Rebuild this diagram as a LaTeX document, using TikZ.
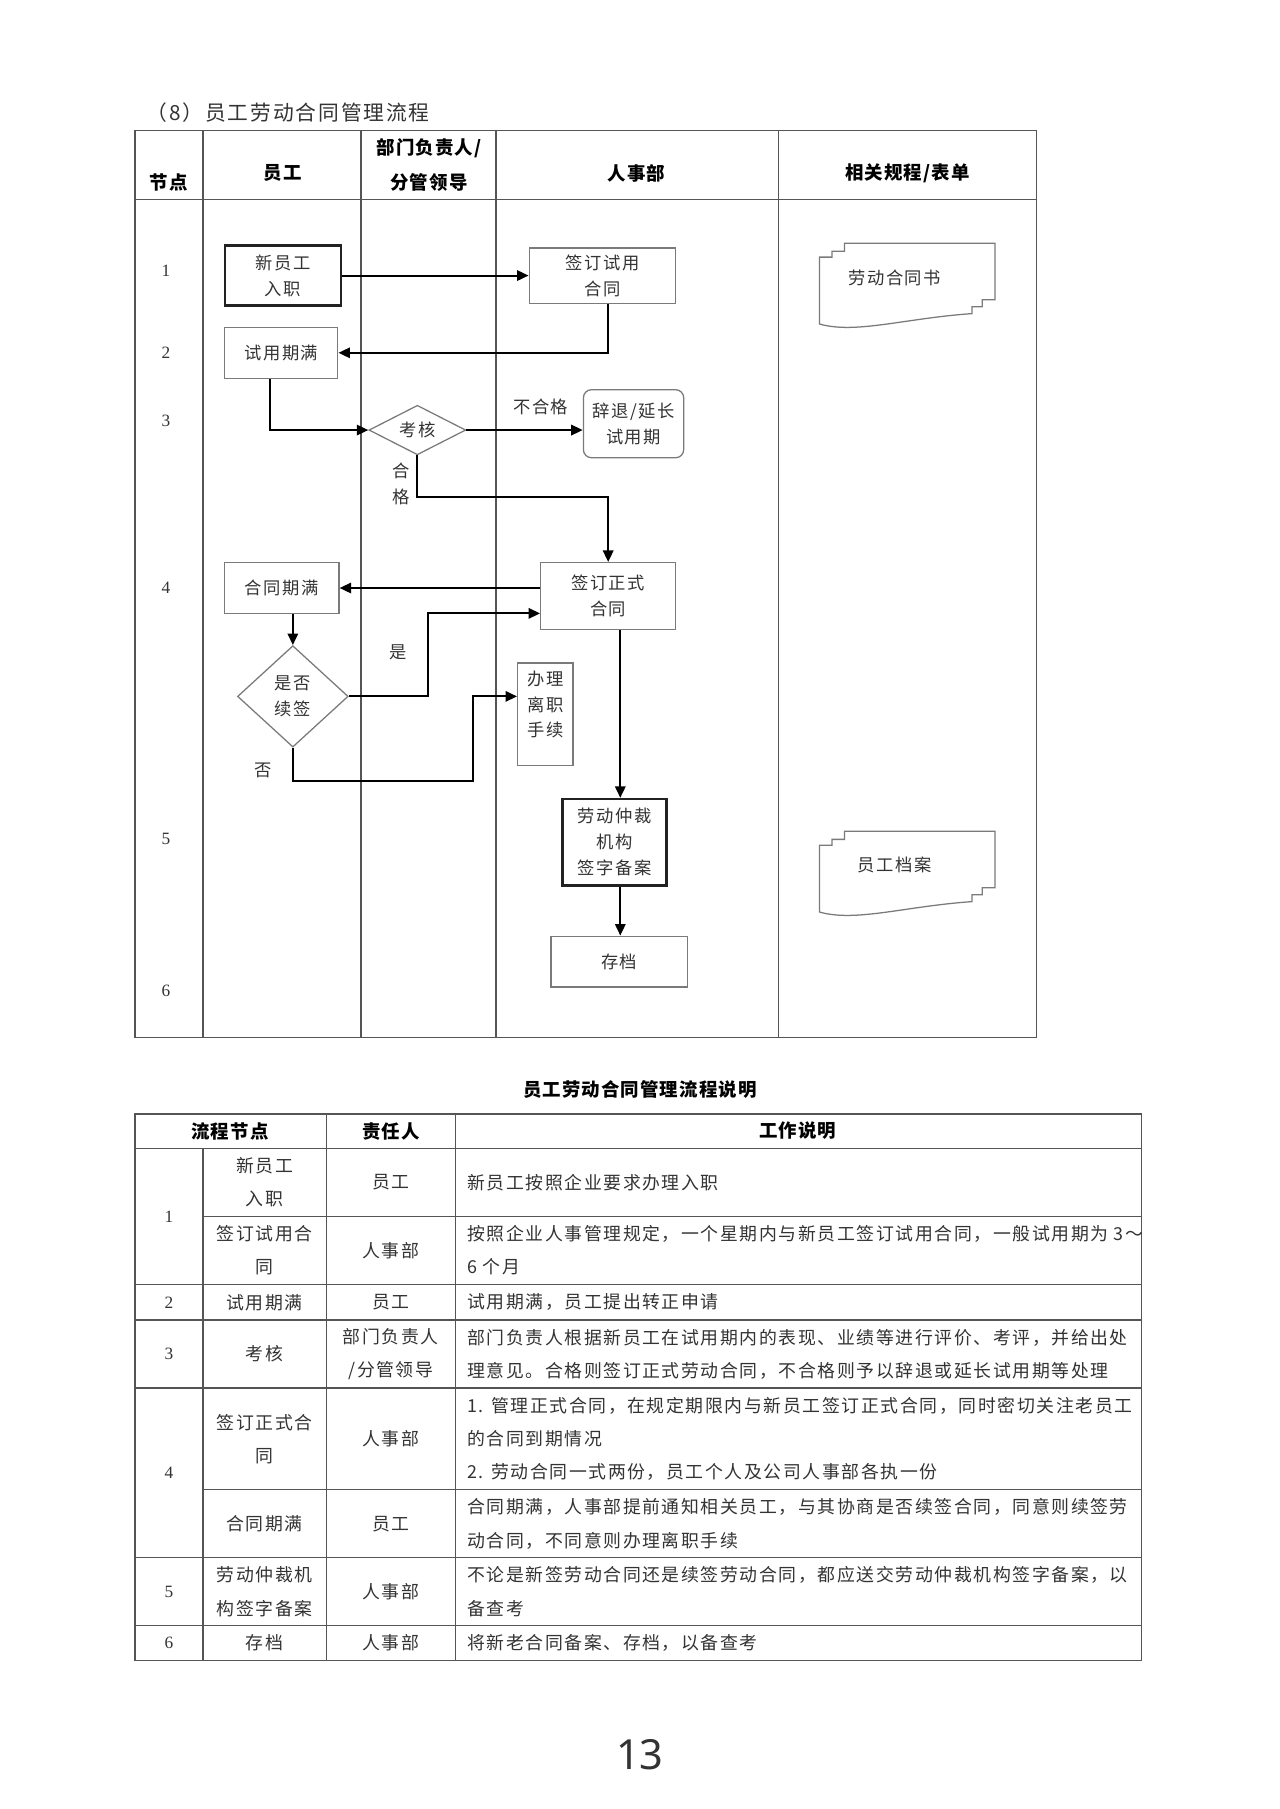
\documentclass[tikz,border=0pt]{standalone}
\usepackage{fontspec}
\usetikzlibrary{arrows.meta,shapes.geometric}
\setmainfont{Noto Sans CJK SC}
\newfontfamily\cjk{Noto Sans CJK SC}[LetterSpace=9]
\newfontfamily\cjkh{Noto Sans CJK SC}[LetterSpace=6]
\newfontfamily\numf{Liberation Serif}
\newfontfamily\pnf{Noto Sans}
\definecolor{ln}{HTML}{555555}
\definecolor{txt}{HTML}{333333}
\definecolor{bd}{HTML}{7A7A7A}
\definecolor{bdk}{HTML}{222222}
\newcommand\myflowfont{\cjk\fontsize{15}{22.5}\selectfont}
\newcommand\mytabfont{\cjk\fontsize{15.5}{29}\selectfont}
\newcommand\myheadfont{\cjkh\bfseries\fontsize{16}{30}\selectfont}
\newcommand\mydocpath{(732.5,721) -- (863,721) -- (863,770) -- (852,770) -- (852,776) -- (843,776) -- (843,782) .. controls (785,786) and (742,800) .. (710.7,791) -- (710.7,733) -- (721.6,733) -- (721.6,728) -- (732.5,728) -- cycle}
\tikzset{
  tl/.style={draw=ln, line width=1.3pt},
  fbox/.style={draw=bd, line width=1.1pt, rectangle, inner sep=0pt, align=center, font=\myflowfont, text=txt},
  fboxk/.style={fbox, draw=bdk, line width=2pt},
  fdia/.style={draw=bd, line width=1.1pt, diamond, inner sep=0pt, align=center, font=\myflowfont, text=txt},
  arr/.style={draw=black, line width=1.8pt, -{Triangle[length=10pt,width=9pt]}},
  lab/.style={font=\myflowfont, text=txt, inner sep=0pt, align=center},
  cell/.style={font=\mytabfont, text=txt, inner sep=0pt, align=center},
  desc/.style={cell, anchor=west, align=left},
  hd/.style={font=\myheadfont, text=black, inner sep=0pt, align=center},
  num/.style={font=\numf\fontsize{15}{20}\selectfont, text=txt, inner sep=0pt},
  docs/.style={draw=bd, line width=1.1pt},
}
\begin{document}
\begin{tikzpicture}[x=1pt,y=-1pt]
\useasboundingbox[fill=white] (0,0) rectangle (1110,1569);

% ---------- title ----------
\node[anchor=west, font=\cjk\fontsize{18}{22}\selectfont, text=txt, inner sep=0pt] (title) at (127,98) {（8）员工劳动合同管理流程};

% ---------- table 1 ----------
\draw[tl] (117,113) rectangle (899,900);
\draw[tl] (117,173) -- (899,173);
\foreach \x in {176,313,430,675} \draw[tl] (\x,113) -- (\x,900);

\node[hd] (h1) at (146.5,158) {节点};
\node[hd] (h2) at (245,150) {员工};
\node[hd] (h3) at (372,143) {部门负责人/\\分管领导};
\node[hd] (h4) at (552,150) {人事部};
\node[hd] (h5) at (787,150) {相关规程/表单};

\node[num] (n1) at (144,235) {1};
\node[num] (n2) at (144,306) {2};
\node[num] (n3) at (144,365) {3};
\node[num] (n4) at (144,510) {4};
\node[num] (n5) at (144,728) {5};
\node[num] (n6) at (144,859) {6};

% ---------- flow nodes ----------
\node[fboxk, minimum width=101pt, minimum height=52pt] (xin) at (245.5,239) {新员工\\入职};
\node[fbox, minimum width=127pt, minimum height=48pt] (qsy) at (522.5,239) {签订试用\\合同};
\node[fbox, minimum width=98pt, minimum height=44pt] (syqm) at (244,306) {试用期满};
\node[fdia, minimum width=84pt, minimum height=43pt, aspect=2] (kh) at (362,373) {考核};
\node[fbox, rounded corners=7pt, minimum width=87pt, minimum height=59pt] (ct) at (549.5,367.5) {辞退/延长\\试用期};
\node[fbox, minimum width=117pt, minimum height=58pt] (qzs) at (527.5,517) {签订正式\\合同};
\node[fbox, minimum width=99pt, minimum height=44pt] (htqm) at (244.5,510) {合同期满};
\node[fdia, minimum width=96pt, minimum height=88pt] (sf) at (254,604) {是否\\续签};
\node[fbox, minimum width=48pt, minimum height=89pt] (blz) at (473,619.5) {};
\node[lab] (blzt) at (473,611) {办理\\离职\\手续};
\node[fboxk, minimum width=90pt, minimum height=75pt] (lzc) at (533,730.5) {劳动仲裁\\机构\\签字备案};
\node[fbox, minimum width=118pt, minimum height=44pt] (cd) at (537,834) {存档};

% documents
\draw[docs] \mydocpath;
\begin{scope}[shift={(0,-510)}]
  \draw[docs] \mydocpath;
\end{scope}
\node[lab] (doc1) at (776,241) {劳动合同书};
\node[lab] (doc2) at (776,750) {员工档案};

% ---------- connectors ----------
\coordinate (c5) at (362,431);
\coordinate (c8) at (371,532);
\coordinate (c9) at (410,677);
\coordinate (c9b) at (410,604);

\draw[arr] (xin.east) -- (qsy.west);
\draw[arr] ([xshift=4.5pt]qsy.south) |- (syqm.east);
\draw[arr] ([xshift=-10pt]syqm.south) |- (kh.west);
\draw[arr] (kh.east) -- (ct.west |- kh.east);
\draw[arr] (kh.south) -- (c5) -| (qzs.north);
\draw[arr] (qzs.west |- htqm.east) -- (htqm.east);
\draw[arr] (sf.north |- htqm.south) -- (sf.north);
\draw[arr] (sf.east) -| (c8) -- (qzs.west |- c8);
\draw[arr] (sf.south) |- (c9) -- (c9b) -- (blz.west |- c9b);
\draw[arr] ([xshift=10.5pt]qzs.south) -- ([xshift=5pt]lzc.north);
\draw[arr] ([xshift=5pt]lzc.south) -- ([xshift=1pt]cd.north);

\node[lab] (l1) at (469,353) {不合格};
\node[lab] (l2) at (348,419.5) {合\\格};
\node[lab] (l3) at (345,566) {是};
\node[lab] (l4) at (228,668) {否};

% ---------- table 2 ----------
\node[font=\myheadfont, inner sep=0pt] (t2title) at (555,945) {员工劳动合同管理流程说明};

\draw[tl] (117,966) rectangle (990,1440);
\foreach \y in {996,1114,1145,1204,1351,1410} \draw[tl] (117,\y) -- (990,\y);
\foreach \y in {1055,1292} \draw[tl] (176,\y) -- (990,\y);
\draw[tl] (176,996) -- (176,1440);
\draw[tl] (283,966) -- (283,1440);
\draw[tl] (395,966) -- (395,1440);

\node[hd] (th1) at (199.5,981) {流程节点};
\node[hd] (th2) at (339,981) {责任人};
\node[hd] (th3) at (692,981) {工作说明};

\node[num] (r1) at (146.5,1055) {1};
\node[num] (r2) at (146.5,1129.5) {2};
\node[num] (r3) at (146.5,1174.5) {3};
\node[num] (r4) at (146.5,1277.5) {4};
\node[num] (r5) at (146.5,1380.5) {5};
\node[num] (r6) at (146.5,1425) {6};

\node[cell] (a1) at (229.5,1025.5) {新员工\\入职};
\node[cell] (b1) at (339,1025.5) {员工};
\node[desc] (d1) at (405,1025.5) {新员工按照企业要求办理入职};

\node[cell] (a2) at (229.5,1084.5) {签订试用合\\同};
\node[cell] (b2) at (339,1084.5) {人事部};
\node[desc] (d2) at (405,1084.5) {按照企业人事管理规定，一个星期内与新员工签订试用合同，一般试用期为 3～\\6 个月};

\node[cell] (a3) at (229.5,1129.5) {试用期满};
\node[cell] (b3) at (339,1129.5) {员工};
\node[desc] (d3) at (405,1129.5) {试用期满，员工提出转正申请};

\node[cell] (a4) at (229.5,1174.5) {考核};
\node[cell] (b4) at (339,1174.5) {部门负责人\\/分管领导};
\node[desc] (d4) at (405,1174.5) {部门负责人根据新员工在试用期内的表现、业绩等进行评价、考评，并给出处\\理意见。合格则签订正式劳动合同，不合格则予以辞退或延长试用期等处理};

\node[cell] (a5) at (229.5,1248) {签订正式合\\同};
\node[cell] (b5) at (339,1248) {人事部};
\node[desc] (d5) at (405,1248) {1. 管理正式合同，在规定期限内与新员工签订正式合同，同时密切关注老员工\\的合同到期情况\\2. 劳动合同一式两份，员工个人及公司人事部各执一份};

\node[cell] (a6) at (229.5,1321.5) {合同期满};
\node[cell] (b6) at (339,1321.5) {员工};
\node[desc] (d6) at (405,1321.5) {合同期满，人事部提前通知相关员工，与其协商是否续签合同，同意则续签劳\\动合同，不同意则办理离职手续};

\node[cell] (a7) at (229.5,1380.5) {劳动仲裁机\\构签字备案};
\node[cell] (b7) at (339,1380.5) {人事部};
\node[desc] (d7) at (405,1380.5) {不论是新签劳动合同还是续签劳动合同，都应送交劳动仲裁机构签字备案，以\\备查考};

\node[cell] (a8) at (229.5,1425) {存档};
\node[cell] (b8) at (339,1425) {人事部};
\node[desc] (d8) at (405,1425) {将新老合同备案、存档，以备查考};

% page number
\node[font=\pnf\fontsize{36}{40}\selectfont, text=txt, inner sep=0pt] (pg) at (555,1522) {13};
\end{tikzpicture}
\end{document}
